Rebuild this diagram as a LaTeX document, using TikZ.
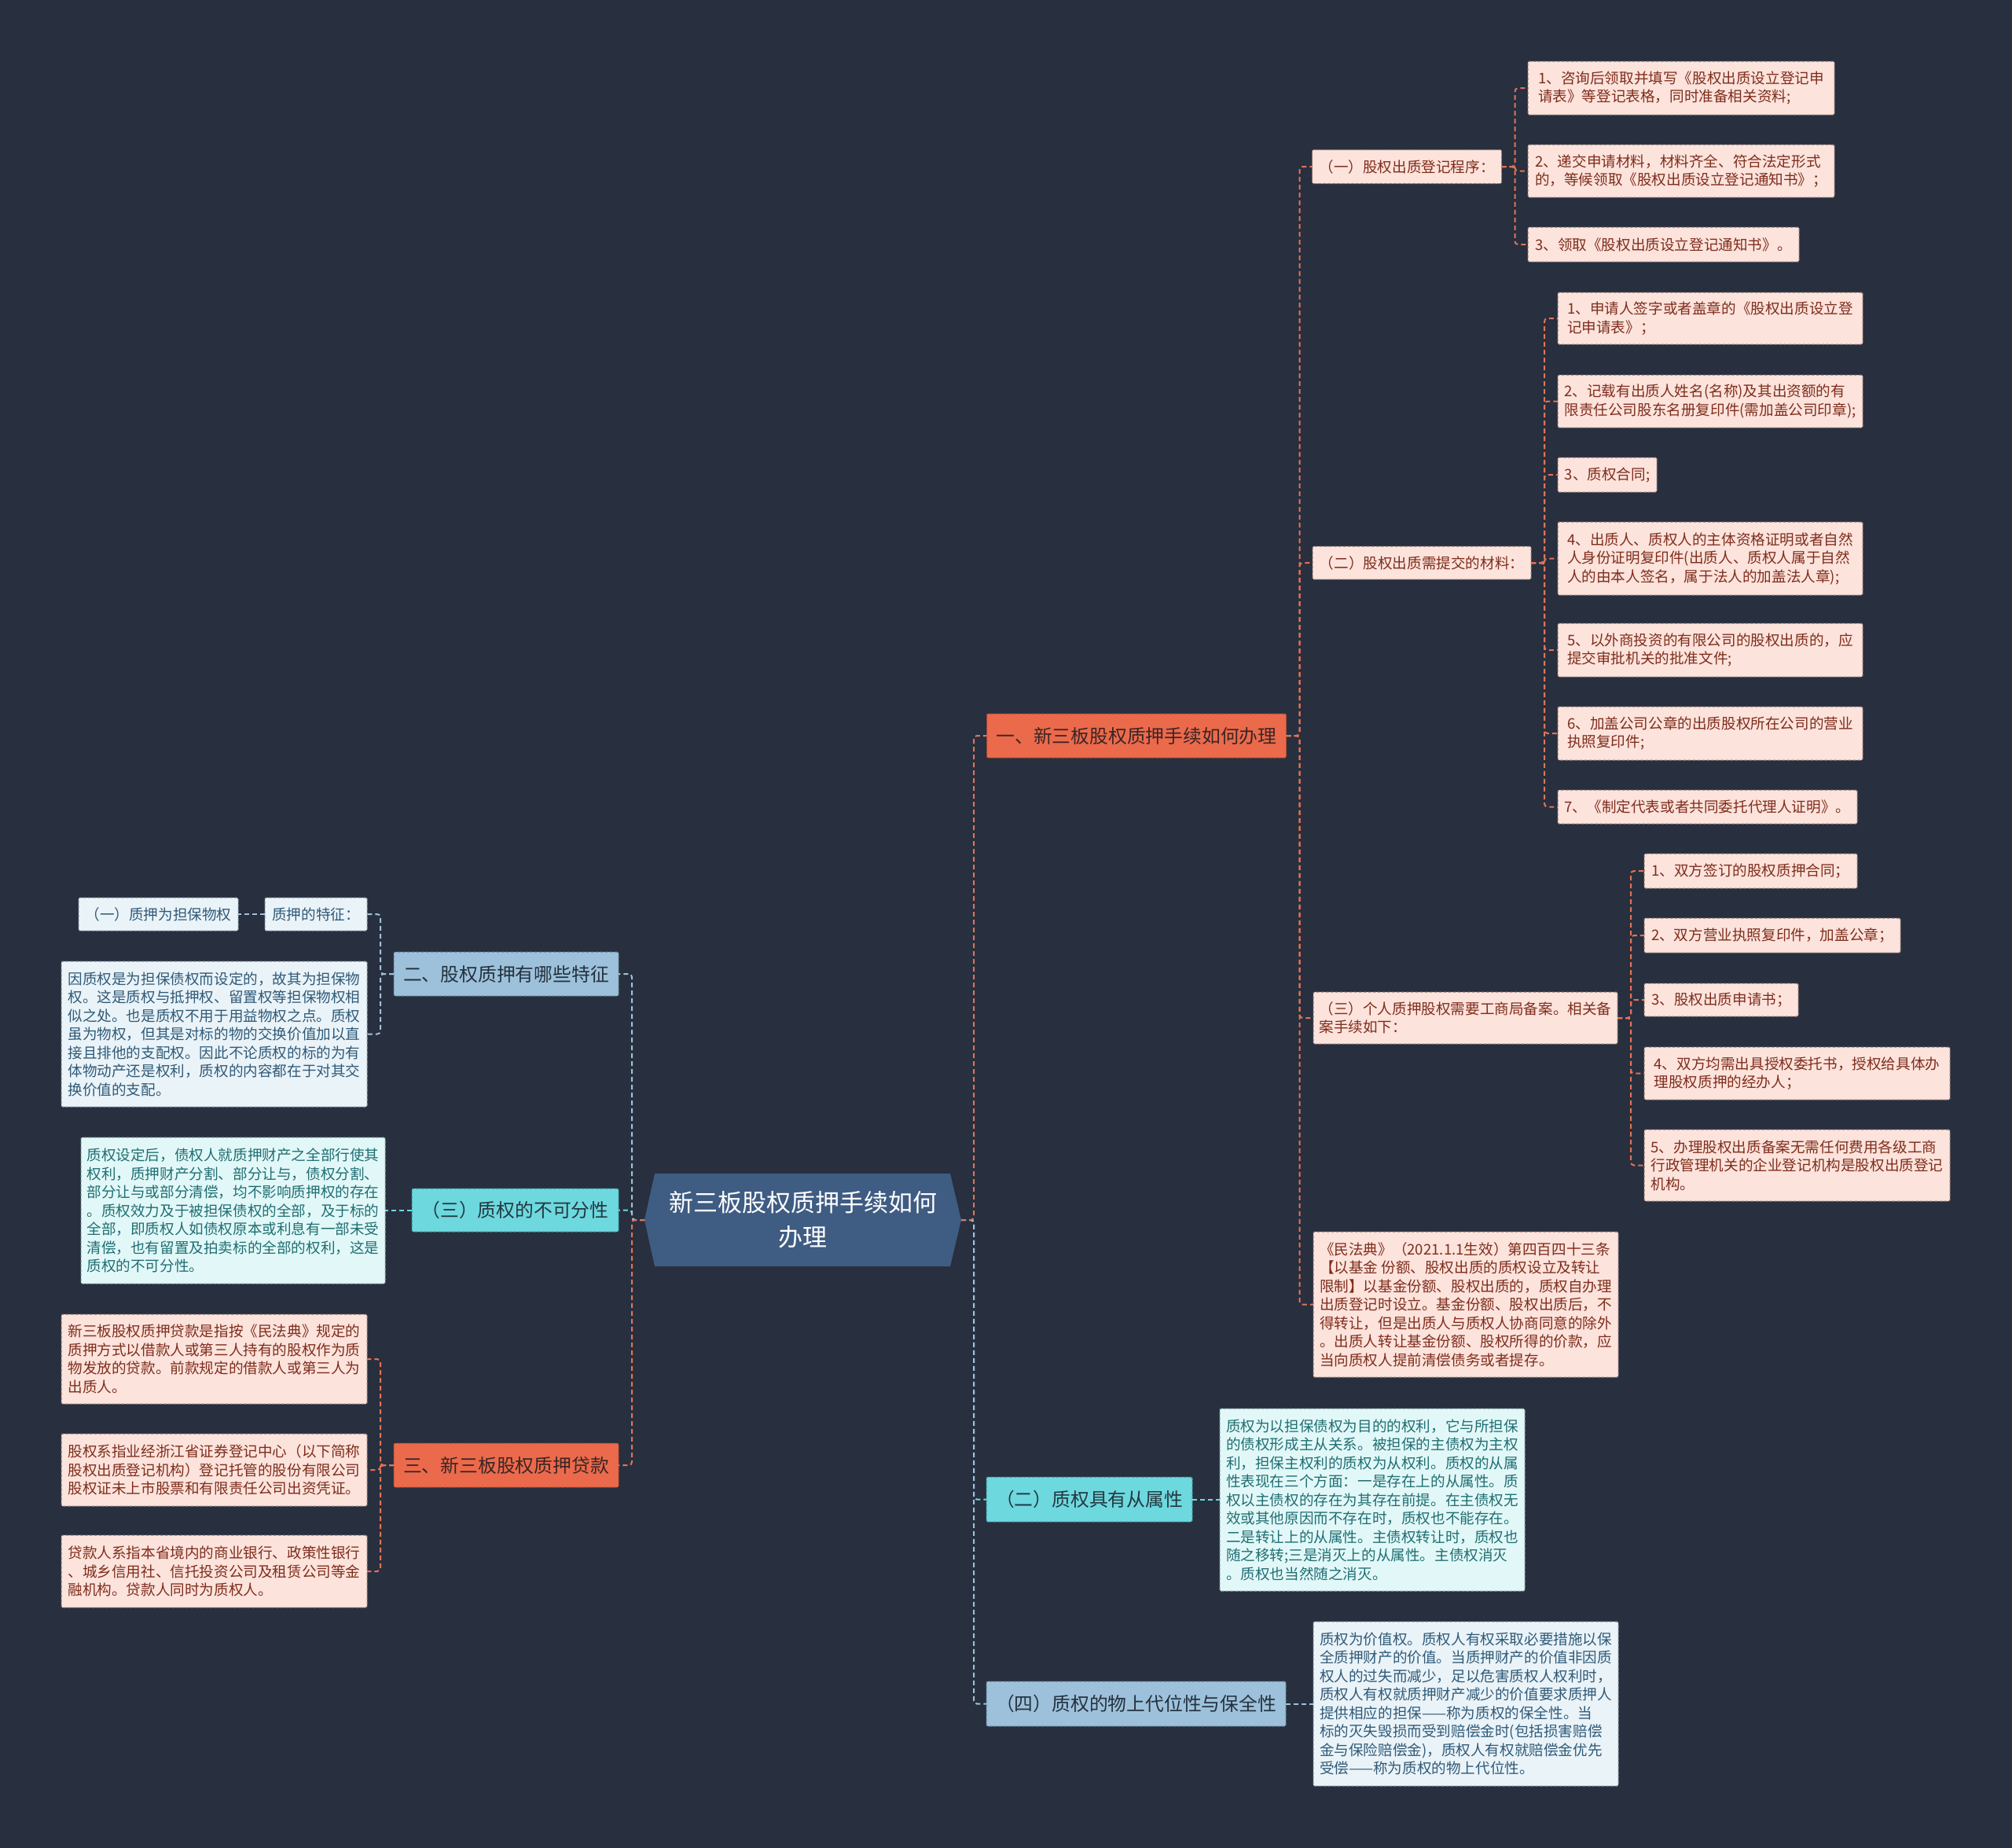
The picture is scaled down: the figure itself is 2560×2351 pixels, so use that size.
\documentclass[tikz,border=0pt]{standalone}
\usepackage{fontspec}
\setmainfont{Noto Sans CJK SC}
\usetikzlibrary{calc}
\pgfdeclarelayer{bglayer}
\pgfsetlayers{bglayer,main}
\definecolor{bgc}{HTML}{282F3E}
\definecolor{rootfill}{HTML}{3F5C83}
\definecolor{orfill}{HTML}{EB6A4C}
\definecolor{ordraw}{HTML}{A94A34}
\definecolor{ortext}{HTML}{3B2523}
\definecolor{pinkfill}{HTML}{FCE3DC}
\definecolor{pinkdraw}{HTML}{8E7C78}
\definecolor{pinktext}{HTML}{7F2D1C}
\definecolor{lbfill}{HTML}{9DC1DA}
\definecolor{lbdraw}{HTML}{5F7C92}
\definecolor{lbtext}{HTML}{24313F}
\definecolor{lbleaffill}{HTML}{EAF3F8}
\definecolor{lbleafdraw}{HTML}{8A99A6}
\definecolor{lbleaftext}{HTML}{2F5A78}
\definecolor{cyfill}{HTML}{6ED8DF}
\definecolor{cydraw}{HTML}{3A8A90}
\definecolor{cytext}{HTML}{23383F}
\definecolor{cyleaffill}{HTML}{E2F8F8}
\definecolor{cyleafdraw}{HTML}{86A5A8}
\definecolor{cyleaftext}{HTML}{1F6E72}
\definecolor{orline}{HTML}{E27356}
\definecolor{lbline}{HTML}{9DC1DA}
\definecolor{cyline}{HTML}{6ED8DF}
\tikzset{
  bx/.style={rectangle, rounded corners=1.5pt, line width=1pt, dash pattern=on 4pt off 2pt, align=left, inner sep=0pt, outer sep=0pt},
  smallfont/.style={font=\fontsize{18.6pt}{23.5pt}\selectfont},
  bigfont/.style={font=\fontsize{23.8pt}{30pt}\selectfont},
  pinkbox/.style={bx, smallfont, fill=pinkfill, draw=pinkdraw, text=pinktext},
  orangebox/.style={bx, bigfont, fill=orfill, draw=ordraw, text=ortext},
  lbluebox/.style={bx, bigfont, fill=lbfill, draw=lbdraw, text=lbtext},
  cyanbox/.style={bx, bigfont, fill=cyfill, draw=cydraw, text=cytext},
  lbleaf/.style={bx, smallfont, fill=lbleaffill, draw=lbleafdraw, text=lbleaftext},
  cyleaf/.style={bx, smallfont, fill=cyleaffill, draw=cyleafdraw, text=cyleaftext},
  sz/.style 2 args={minimum width=#1pt, minimum height=#2pt},
  ln/.style={line width=2pt, dash pattern=on 6pt off 4pt, rounded corners=4pt},
  orln/.style={ln, draw=orline},
  lbln/.style={ln, draw=lbline},
  cyln/.style={ln, draw=cyline},
  rootnode/.style={inner sep=0pt, outer sep=0pt, align=center, text=white, font=\fontsize{31pt}{44pt}\selectfont},
}
\begin{document}
\begin{tikzpicture}[x=1pt,y=-1pt]
\useasboundingbox (0,0) rectangle (2560,2351);

% root
\node[rootnode, sz={403}{118}] (root) at (1021.5,1552) {新三板股权质押手续如何\\办理};

% ---------- right: branch 1 ----------
\node[orangebox, sz={381}{56}] (A1) at (1446,936) {一、新三板股权质押手续如何办理};

\node[pinkbox, sz={241}{43}] (A1a) at (1790,212) {（一）股权出质登记程序：};
\node[pinkbox, sz={390}{68}] (A1a1) at (2139,112) {1、咨询后领取并填写《股权出质设立登记申\\请表》等登记表格，同时准备相关资料;};
\node[pinkbox, sz={390}{67}] (A1a2) at (2139,217.5) {2、递交申请材料，材料齐全、符合法定形式\\的，等候领取《股权出质设立登记通知书》；};
\node[pinkbox, sz={345}{44}] (A1a3) at (2116.5,311) {3、领取《股权出质设立登记通知书》。};

\node[pinkbox, sz={278}{42}] (A1b) at (1809,716) {（二）股权出质需提交的材料：};
\node[pinkbox, sz={388}{66}] (A1b1) at (2176,405) {1、申请人签字或者盖章的《股权出质设立登\\记申请表》；};
\node[pinkbox, sz={388}{67}] (A1b2) at (2176,510.5) {2、记载有出质人姓名(名称)及其出资额的有\\限责任公司股东名册复印件(需加盖公司印章);};
\node[pinkbox, sz={126}{44}] (A1b3) at (2045,604) {3、质权合同;};
\node[pinkbox, sz={388}{93}] (A1b4) at (2176,710.5) {4、出质人、质权人的主体资格证明或者自然\\人身份证明复印件(出质人、质权人属于自然\\人的由本人签名，属于法人的加盖法人章);};
\node[pinkbox, sz={388}{68}] (A1b5) at (2176,827) {5、以外商投资的有限公司的股权出质的，应\\提交审批机关的批准文件;};
\node[pinkbox, sz={388}{68}] (A1b6) at (2176,933) {6、加盖公司公章的出质股权所在公司的营业\\执照复印件;};
\node[pinkbox, sz={381}{43}] (A1b7) at (2172.5,1026.5) {7、《制定代表或者共同委托代理人证明》。};

\node[pinkbox, sz={387}{66}] (A1c) at (1864.5,1295) {（三）个人质押股权需要工商局备案。相关备\\案手续如下：};
\node[pinkbox, sz={271}{44}] (A1c1) at (2227.5,1108) {1、双方签订的股权质押合同；};
\node[pinkbox, sz={326}{44}] (A1c2) at (2255,1190) {2、双方营业执照复印件，加盖公章；};
\node[pinkbox, sz={196}{42}] (A1c3) at (2190,1272) {3、股权出质申请书；};
\node[pinkbox, sz={389}{67}] (A1c4) at (2286.5,1365.5) {4、双方均需出具授权委托书，授权给具体办\\理股权质押的经办人；};
\node[pinkbox, sz={389}{91}] (A1c5) at (2286.5,1482.5) {5、办理股权出质备案无需任何费用各级工商\\行政管理机关的企业登记机构是股权出质登记\\机构。};

\node[pinkbox, sz={388}{185}] (A1d) at (1865,1659.5) {《民法典》（2021.1.1生效）第四百四十三条\\【以基金 份额、股权出质的质权设立及转让\\限制】以基金份额、股权出质的，质权自办理\\出质登记时设立。基金份额、股权出质后，不\\得转让，但是出质人与质权人协商同意的除外\\。出质人转让基金份额、股权所得的价款，应\\当向质权人提前清偿债务或者提存。};

% ---------- right: branches 2, 3 ----------
\node[cyanbox, sz={262}{57}] (A2) at (1386,1907.5) {（二）质权具有从属性};
\node[cyleaf, sz={388}{232}] (A2a) at (1746,1908) {质权为以担保债权为目的的权利，它与所担保\\的债权形成主从关系。被担保的主债权为主权\\利，担保主权利的质权为从权利。质权的从属\\性表现在三个方面：一是存在上的从属性。质\\权以主债权的存在为其存在前提。在主债权无\\效或其他原因而不存在时，质权也不能存在。\\二是转让上的从属性。主债权转让时，质权也\\随之移转;三是消灭上的从属性。主债权消灭\\。质权也当然随之消灭。};

\node[lbluebox, sz={381}{57}] (A3) at (1445.5,2167.5) {（四）质权的物上代位性与保全性};
\node[lbleaf, sz={388}{209}] (A3a) at (1865,2167.5) {质权为价值权。质权人有权采取必要措施以保\\全质押财产的价值。当质押财产的价值非因质\\权人的过失而减少，足以危害质权人权利时，\\质权人有权就质押财产减少的价值要求质押人\\提供相应的担保——称为质权的保全性。当\\标的灭失毁损而受到赔偿金时(包括损害赔偿\\金与保险赔偿金)，质权人有权就赔偿金优先\\受偿——称为质权的物上代位性。};

% ---------- left ----------
\node[lbluebox, sz={286}{56}] (B1) at (644,1239) {二、股权质押有哪些特征};
\node[lbleaf, sz={130}{42}] (B1a) at (402,1163) {质押的特征：};
\node[lbleaf, sz={203}{42}] (B1a1) at (201.5,1163) {（一）质押为担保物权};
\node[lbleaf, sz={389}{185}] (B1b) at (272.5,1315.5) {因质权是为担保债权而设定的，故其为担保物\\权。这是质权与抵押权、留置权等担保物权相\\似之处。也是质权不用于用益物权之点。质权\\虽为物权，但其是对标的物的交换价值加以直\\接且排他的支配权。因此不论质权的标的为有\\体物动产还是权利，质权的内容都在于对其交\\换价值的支配。};

\node[cyanbox, sz={263}{55}] (B2) at (655.5,1539.5) {（三）质权的不可分性};
\node[cyleaf, sz={387}{186}] (B2a) at (296.5,1540) {质权设定后，债权人就质押财产之全部行使其\\权利，质押财产分割、部分让与，债权分割、\\部分让与或部分清偿，均不影响质押权的存在\\。质权效力及于被担保债权的全部，及于标的\\全部，即质权人如债权原本或利息有一部未受\\清偿，也有留置及拍卖标的全部的权利，这是\\质权的不可分性。};

\node[orangebox, sz={286}{56}] (B3) at (644,1864) {三、新三板股权质押贷款};
\node[pinkbox, sz={389}{114}] (B3a) at (272.5,1729) {新三板股权质押贷款是指按《民法典》规定的\\质押方式以借款人或第三人持有的股权作为质\\物发放的贷款。前款规定的借款人或第三人为\\出质人。};
\node[pinkbox, sz={389}{92}] (B3b) at (272.5,1870) {股权系指业经浙江省证券登记中心（以下简称\\股权出质登记机构）登记托管的股份有限公司\\股权证未上市股票和有限责任公司出资凭证。};
\node[pinkbox, sz={389}{92}] (B3c) at (272.5,1999) {贷款人系指本省境内的商业银行、政策性银行\\、城乡信用社、信托投资公司及租赁公司等金\\融机构。贷款人同时为质权人。};

% ---------- background and root shape ----------
\begin{pgfonlayer}{bglayer}
\fill[bgc] (0,0) rectangle (2560,2351);
\fill[rootfill] (root.west) -- ([xshift=13pt]root.north west) -- ([xshift=-14pt]root.north east) -- (root.east) -- ([xshift=-14pt]root.south east) -- ([xshift=13pt]root.south west) -- cycle;
\end{pgfonlayer}

% ---------- connectors ----------
\draw[cyln] (root.east) -- ++(16,0) |- (A2.west);
\draw[lbln] (root.east) -- ++(16,0) |- (A3.west);
\draw[orln] (root.east) -- ++(16,0) |- (A1.west);

\draw[cyln] (root.west) -- ++(-16,0) |- (B2.east);
\draw[lbln] (root.west) -- ++(-16,0) |- (B1.east);
\draw[orln] (root.west) -- ++(-16,0) |- (B3.east);

\foreach \n in {A1a,A1b,A1c,A1d} \draw[orln] (A1.east) -- ++(17,0) |- (\n.west);
\foreach \n in {A1a1,A1a2,A1a3} \draw[orln] (A1a.east) -- ++(17,0) |- (\n.west);
\foreach \n in {A1b1,A1b2,A1b3,A1b4,A1b5,A1b6,A1b7} \draw[orln] (A1b.east) -- ++(17,0) |- (\n.west);
\foreach \n in {A1c1,A1c2,A1c3,A1c4,A1c5} \draw[orln] (A1c.east) -- ++(17,0) |- (\n.west);

\draw[cyln] (A2.east) -- (A2a.west |- A2.east);
\draw[lbln] (A3.east) -- (A3a.west |- A3.east);

\foreach \n in {B1a,B1b} \draw[lbln] (B1.west) -- ++(-17,0) |- (\n.east);
\draw[lbln] (B1a.west) -- (B1a1.east);
\draw[cyln] (B2.west) -- (B2a.east |- B2.west);
\foreach \n in {B3a,B3b,B3c} \draw[orln] (B3.west) -- ++(-17,0) |- (\n.east);
\end{tikzpicture}
\end{document}
